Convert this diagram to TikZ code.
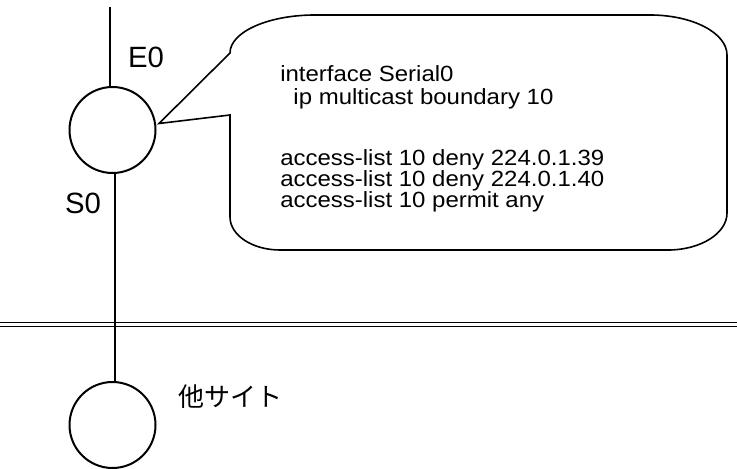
\documentclass[tikz,border=0pt]{standalone}
\usepackage{fontspec}
\setmainfont{Liberation Sans}
\newfontfamily\cjk{Noto Sans CJK JP}
\begin{document}
\begin{tikzpicture}[x=0.75pt,y=0.75pt,
    router/.style={circle, draw, line width=1.5pt, minimum size=64.5pt, inner sep=0pt},
    port/.style={font=\fontsize{22}{22}\selectfont, inner sep=0pt}]
    \useasboundingbox (0,0) rectangle (737,468);
    \node[router] (R) at (112.5,338) {};
    \node[router] (O) at (112.5,43) {};
    \coordinate (T) at (110,461);
    \draw[line width=1.5pt] (T) -- (T |- R.north);
    \draw[line width=1.5pt] ([xshift=1.9pt]R.south) -- ([xshift=1.9pt]O.north);
    % boundary to the other site
    \draw[line width=0.6pt] (0,146) -- (737,146);
    \draw[line width=0.6pt] (0,142) -- (737,142);
    \node[port] (E) at (146,411) {E0};
    \node[port] (S) at (83,265) {S0};
    \node[font=\cjk\fontsize{19.5}{19.5}\selectfont, inner sep=0pt] (X) at (230,71) {他サイト};
    % callout
    \coordinate (P) at ([shift={(2.5,6.5)}]R.east);
    \draw[line width=1.2pt] (230,353) -- (230,251)
        arc[start angle=180, end angle=270, x radius=50, y radius=33] -- (668,218)
        arc[start angle=270, end angle=360, x radius=59, y radius=37] -- (727,413)
        arc[start angle=0, end angle=90, x radius=77, y radius=40] -- (315,453)
        arc[start angle=90, end angle=180, x radius=85, y radius=38] -- (P) -- cycle;
    \node[anchor=base west, align=left, inner sep=0pt, xscale=1.09, transform shape,
          font={\fontsize{16.5}{15.4}\selectfont\lineskiplimit=-20pt}] (C) at (280,261)
        {interface Serial0\\[1.9pt]
         \hspace{0.55em}ip multicast boundary 10\\[30.4pt]
         access-list 10 deny 224.0.1.39\\
         access-list 10 deny 224.0.1.40\\
         access-list 10 permit any};
\end{tikzpicture}
\end{document}
